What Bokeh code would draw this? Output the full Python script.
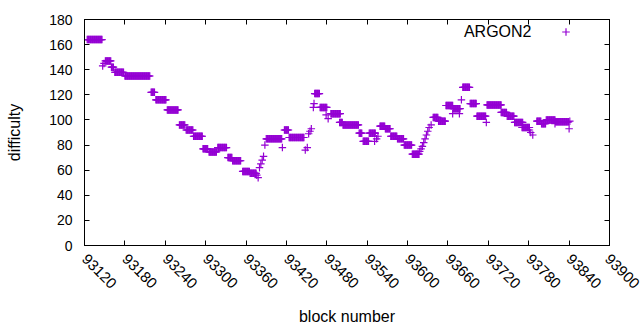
import math
from bokeh.plotting import figure
from bokeh.models import (Range1d, FixedTicker, LinearAxis, CustomJSTickFormatter,
                          Label, Legend, LegendItem, ColumnDataSource)
from bokeh.embed import file_html
from bokeh.resources import INLINE
from bokeh.core.properties import value

# Runs of blocks with constant difficulty: first block, last block, difficulty
run_start = [93124, 93151, 93160, 93165, 93180, 93219, 93226, 93243, 93261, 93271,
             93282, 93296, 93305, 93318, 93333, 93340, 93355, 93366, 93390, 93417,
             93424, 93462, 93470, 93486, 93499, 93504, 93528, 93534, 93543, 93559,
             93567, 93575, 93585, 93595, 93607, 93638, 93646, 93657, 93668, 93682,
             93693, 93703, 93718, 93739, 93748, 93759, 93770, 93792, 93799, 93806,
             93820]
run_end = [93146, 93159, 93163, 93178, 93217, 93224, 93241, 93259, 93269, 93281,
           93295, 93303, 93316, 93331, 93339, 93352, 93365, 93375, 93413, 93423,
           93446, 93469, 93480, 93500, 93503, 93527, 93532, 93542, 93552, 93566,
           93574, 93584, 93594, 93606, 93617, 93645, 93656, 93667, 93678, 93692,
           93702, 93716, 93739, 93747, 93758, 93771, 93781, 93798, 93805, 93819,
           93839]
run_value = [164, 147, 142, 138, 135, 122, 116, 108, 96, 92,
             87, 77, 74.5, 78, 70, 67.5, 59, 57.5, 85, 92,
             86, 121, 110, 105, 98, 96, 89.5, 83, 89.5, 95,
             93, 87, 85, 80, 72.7, 102, 99, 111.5, 109, 126,
             113, 103, 112, 106, 103, 98, 94, 99, 97, 100,
             98.5]

# Isolated blocks
pt_block = [93147, 93149, 93376, 93378, 93380, 93382, 93384, 93386, 93388, 93414,
            93448, 93451, 93453, 93455, 93457, 93460, 93461, 93479, 93482, 93551,
            93554, 93556, 93618, 93620, 93622, 93624, 93626, 93628, 93630, 93632,
            93635, 93667, 93677, 93680, 93717, 93781, 93783, 93786, 93819, 93840,
            93841]
pt_value = [143, 145, 56, 54, 62, 65, 68, 71, 80, 78,
            76, 78, 89, 91, 93, 110, 113, 104, 101, 83,
            85, 87, 75, 77, 79, 82, 85, 88, 91, 94,
            96, 105, 105, 116, 98, 92, 90, 88, 97, 93,
            99]

RUN_STEP = 1

x_ticks = list(range(93120, 93901, 60))
y_ticks = list(range(0, 181, 20))
series_name = "ARGON2"
x_title = "block number"
y_title = "difficulty"

xs, ys = [], []
for s, e, v in zip(run_start, run_end, run_value):
    for b in range(s, e + 1, RUN_STEP):
        xs.append(b)
        ys.append(v)
xs += pt_block
ys += pt_value
src = ColumnDataSource(dict(x=xs, y=ys))

FONT = "Liberation Sans"
PURPLE = "#9400D3"

p = figure(width=640, height=330, output_backend="svg", toolbar_location=None,
           x_range=Range1d(93120, 93900), y_range=Range1d(0, 180),
           min_border_left=84, min_border_right=31, min_border_top=19,
           min_border_bottom=85, background_fill_color="white",
           border_fill_color="white")
p.grid.visible = False
p.outline_line_color = "black"
p.outline_line_width = 1

r = p.scatter(x="x", y="y", source=src, marker="cross", size=7.5,
              line_color=PURPLE, line_width=1.2)

def style_axis(ax):
    ax.axis_line_color = "black"
    ax.major_tick_line_color = "black"
    ax.major_tick_in = 5
    ax.major_tick_out = 0
    ax.minor_tick_line_color = None
    ax.major_label_text_font = FONT
    ax.major_label_text_font_size = "14px"
    ax.major_label_text_color = "black"
    ax.axis_label_text_font = FONT
    ax.axis_label_text_font_size = "16px"
    ax.axis_label_text_font_style = "normal"
    ax.axis_label_text_color = "black"

xa = p.xaxis[0]
ya = p.yaxis[0]
xa.ticker = FixedTicker(ticks=x_ticks)
ya.ticker = FixedTicker(ticks=y_ticks)
for ax in (xa, ya):
    style_axis(ax)
xa.major_label_orientation = -math.pi / 4
xa.major_label_text_font_size = "15px"
xa.major_label_standoff = 11
xa.axis_label = x_title
xa.axis_label_standoff = 12
ya.major_label_standoff = 12
ya.axis_label = y_title
ya.axis_label_standoff = 23

blank = CustomJSTickFormatter(code="return ''")
top = LinearAxis(ticker=FixedTicker(ticks=x_ticks), formatter=blank)
right = LinearAxis(ticker=FixedTicker(ticks=y_ticks), formatter=blank)
for ax in (top, right):
    style_axis(ax)
    ax.major_label_text_font_size = "0px"
    ax.major_label_standoff = 0
p.add_layout(top, "above")
p.add_layout(right, "right")

legend = Legend(items=[LegendItem(label=value(" "), renderers=[r])],
                location=(472, 204), padding=0, margin=0, spacing=0,
                glyph_width=19, glyph_height=19, label_height=19, label_width=0,
                label_standoff=0, label_text_font_size="1px",
                border_line_color=None, background_fill_alpha=0)
p.add_layout(legend)

p.add_layout(Label(x=447, y=214, x_units="screen", y_units="screen",
                   text=series_name, text_align="right", text_baseline="middle",
                   text_font=FONT, text_font_size="16px", text_color="black"))

open("out.html", "w").write(file_html(p, INLINE))
